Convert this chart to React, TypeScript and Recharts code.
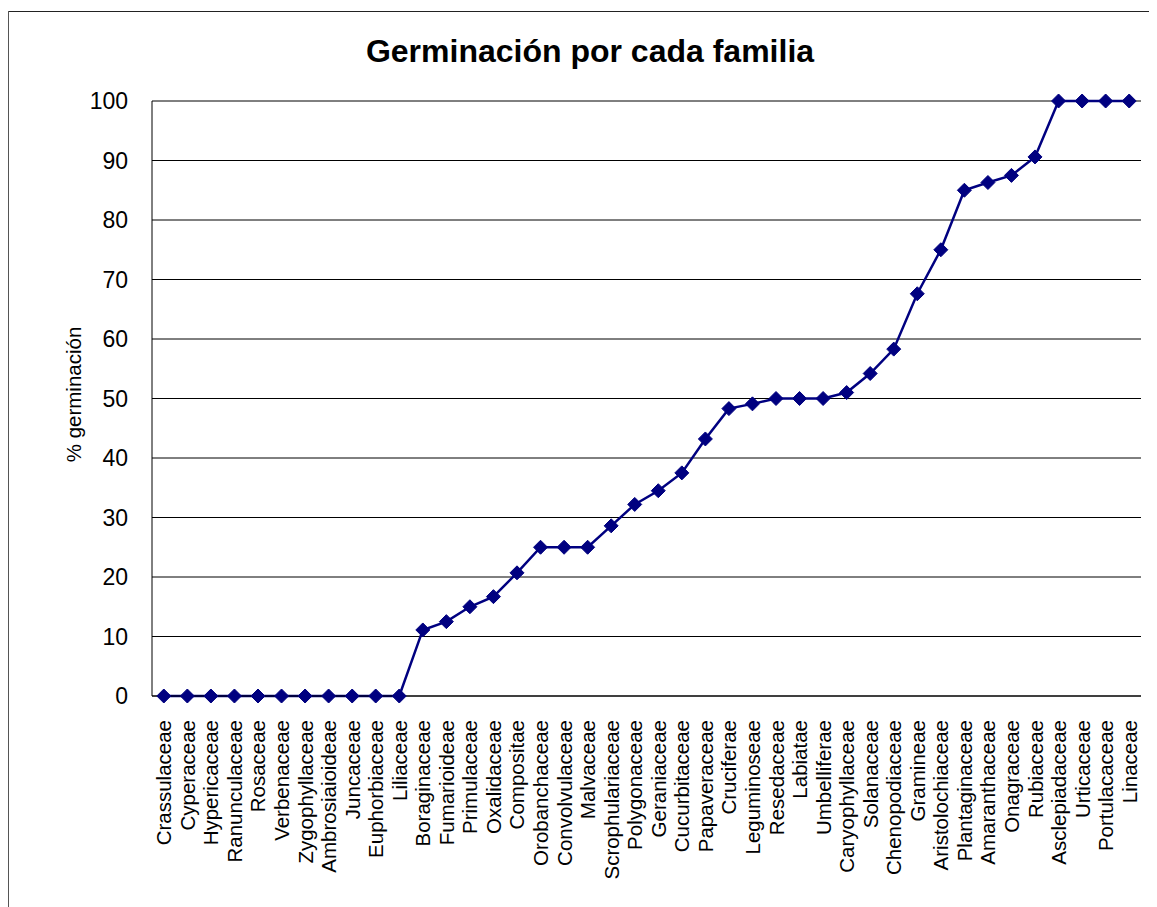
import { CartesianGrid, Line, LineChart, XAxis, YAxis } from "recharts";

const families = [
  "Crassulaceae", "Cyperaceae", "Hypericaceae", "Ranunculaceae", "Rosaceae", "Verbenaceae",
  "Zygophyllaceae", "Ambrosiaioideae", "Juncaceae", "Euphorbiaceae", "Liliaceae", "Boraginaceae",
  "Fumarioideae", "Primulaceae", "Oxalidaceae", "Compositae", "Orobanchaceae", "Convolvulaceae",
  "Malvaceae", "Scrophulariaceae", "Polygonaceae", "Geraniaceae", "Cucurbitaceae", "Papaveraceae",
  "Cruciferae", "Leguminoseae", "Resedaceae", "Labiatae", "Umbelliferae", "Caryophyllaceae",
  "Solanaceae", "Chenopodiaceae", "Gramineae", "Aristolochiaceae", "Plantaginaceae", "Amaranthaceae",
  "Onagraceae", "Rubiaceae", "Asclepiadaceae", "Urticaceae", "Portulacaceae", "Linaceae",
];

const germination = [
  0, 0, 0, 0, 0, 0,
  0, 0, 0, 0, 0, 11.1,
  12.5, 15, 16.7, 20.7, 25, 25,
  25, 28.6, 32.2, 34.5, 37.5, 43.2,
  48.3, 49.1, 50, 50, 50, 51,
  54.2, 58.3, 67.6, 75, 85, 86.3,
  87.5, 90.6, 100, 100, 100, 100,
];

const yTicks = [0, 10, 20, 30, 40, 50, 60, 70, 80, 90, 100];

const data = families.map((name, i) => ({ name, value: germination[i] }));

const FONT = '"Liberation Sans", Arial, sans-serif';
const NAVY = "#000080";

function Diamond({ cx, cy }: { cx?: number; cy?: number }) {
  if (cx == null || cy == null) return null;
  const r = 7;
  return (
    <polygon
      points={`${cx},${cy - r} ${cx + r},${cy} ${cx},${cy + r} ${cx - r},${cy}`}
      fill={NAVY}
      stroke={NAVY}
      strokeWidth={1}
    />
  );
}

function FamilyTick({ x, y, payload }: { x?: number; y?: number; payload?: { value: string } }) {
  return (
    <g transform={`translate(${x},${y})`}>
      <text
        transform="rotate(-90)"
        textAnchor="end"
        dominantBaseline="central"
        fontSize={20.5}
        fontFamily={FONT}
        fill="#000"
      >
        {payload?.value}
      </text>
    </g>
  );
}

export default function App() {
  return (
    <div
      style={{
        position: "relative",
        width: 1157,
        height: 907,
        marginLeft: -8,
        marginTop: -8,
        overflow: "hidden",
        background: "#fff",
        fontFamily: FONT,
      }}
    >
      <div
        style={{
          position: "absolute",
          left: 0,
          top: 35,
          width: 1180,
          textAlign: "center",
          fontSize: 32,
          lineHeight: "32px",
          fontWeight: "bold",
          color: "#000",
        }}
      >
        Germinación por cada familia
      </div>
      <div style={{ position: "absolute", left: 0, top: 0 }}>
        <LineChart
          width={1157}
          height={907}
          data={data}
          margin={{ top: 101, right: 16, bottom: 31, left: 0 }}
        >
          <CartesianGrid vertical={false} stroke="#000" strokeWidth={1} />
          <XAxis
            dataKey="name"
            interval={0}
            height={180}
            padding={{ left: 11.8, right: 11.8 }}
            tickLine={false}
            tickSize={0}
            tickMargin={24}
            axisLine={{ stroke: "#000", strokeWidth: 1 }}
            tick={<FamilyTick />}
          />
          <YAxis
            width={152}
            domain={[0, 100]}
            ticks={yTicks}
            interval={0}
            tickLine={false}
            tickSize={0}
            tickMargin={24}
            axisLine={{ stroke: "#000", strokeWidth: 1 }}
            tick={{ fontSize: 23, fill: "#000", fontFamily: FONT }}
            label={{
              value: "% germinación",
              angle: -90,
              position: "insideLeft",
              offset: 74,
              dy: -4,
              style: { textAnchor: "middle", fontSize: 20.5, fill: "#000", fontFamily: FONT },
            }}
          />
          <Line
            type="linear"
            dataKey="value"
            stroke={NAVY}
            strokeWidth={2.5}
            dot={<Diamond />}
            activeDot={false}
            isAnimationActive={false}
          />
        </LineChart>
      </div>
      {/* outer chart frame, only top and left edges fall inside the page */}
      <svg
        width={1157}
        height={907}
        style={{ position: "absolute", left: 0, top: 0, pointerEvents: "none" }}
      >
        <line x1={8} y1={11.5} x2={1157} y2={11.5} stroke="#222" strokeWidth={1} />
        <line x1={8} y1={11} x2={8} y2={907} stroke="#555" strokeWidth={2} />
      </svg>
    </div>
  );
}
